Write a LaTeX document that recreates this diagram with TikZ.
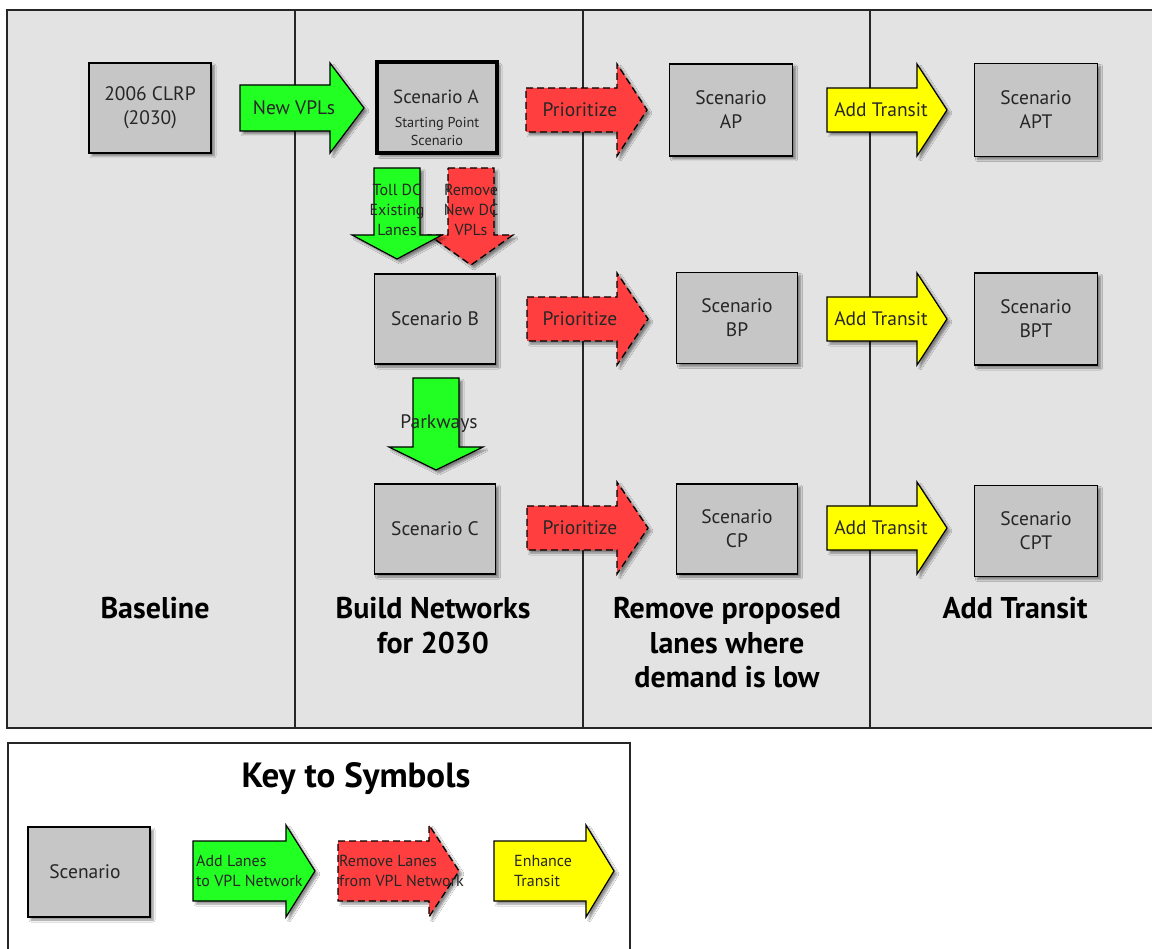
\documentclass[tikz,border=0pt]{standalone}
\usepackage{fontspec}
\setmainfont{PT Sans}
\usetikzlibrary{shadows.blur}
\definecolor{panelbg}{HTML}{E3E3E3}
\definecolor{boxgray}{HTML}{C6C6C6}
\definecolor{agreen}{HTML}{22FF22}
\definecolor{ared}{HTML}{FF3F3F}
\definecolor{ayellow}{HTML}{FFFF00}
\newcommand{\RArrow}[7]{% style, x0, x1, x2, yc, bh, hh
  \path[#1] (#2,#5-#6) -- (#3,#5-#6) -- (#3,#5-#7) -- (#4,#5) -- (#3,#5+#7) -- (#3,#5+#6) -- (#2,#5+#6) -- cycle;}
\newcommand{\DArrow}[7]{% style, xc, y0, y1, y2, bw, hw
  \path[#1] (#2-#6,#3) -- (#2+#6,#3) -- (#2+#6,#4) -- (#2+#7,#4) -- (#2,#5) -- (#2-#7,#4) -- (#2-#6,#4) -- cycle;}
\tikzset{
  shad/.style={blur shadow={shadow xshift=3pt, shadow yshift=-3pt, shadow blur steps=6, shadow opacity=45}},
  scen/.style={draw=black, line width=1.3pt, fill=boxgray, shad, align=center, inner sep=0pt,
    font=\fontsize{19.5}{24}\selectfont, text=black!85},
  garrow/.style={draw=black, line width=1.2pt, fill=agreen, shad},
  rarrow/.style={draw=black, line width=1.3pt, dash pattern=on 7pt off 4pt, fill=ared, shad},
  yarrow/.style={draw=black, line width=1.2pt, fill=ayellow, shad},
  lbl/.style={font=\fontsize{19.5}{22}\selectfont, text=black!85, inner sep=0pt},
  dlbl/.style={font=\fontsize{16}{20}\selectfont, text=black!85, align=center, inner sep=0pt},
  klbl/.style={font=\fontsize{16}{20}\selectfont, text=black!85, align=left, inner sep=0pt, anchor=west},
  ttl/.style={font=\fontsize{30}{34.5}\bfseries\selectfont, align=center, inner sep=0pt},
  divider/.style={draw=black!85, line width=1.5pt}
}
\begin{document}
\begin{tikzpicture}[x=1pt, y=-1pt, line join=miter]
\useasboundingbox (0,0) rectangle (1152,949);
\clip (0,0) rectangle (1152,949);
\fill[white] (0,0) rectangle (1152,949);
% main panel
\draw[fill=panelbg, line width=1.5pt, draw=black!85] (7,10) rectangle (1170,728);
\draw[divider] (295,10) -- (295,728);
\draw[divider] (583,10) -- (583,728);
\draw[divider] (870,10) -- (870,728);
% key panel
\draw[fill=white, line width=1.3pt, draw=black!85] (8,743) rectangle (630,970);

% arrows row A
\RArrow{garrow}{240}{330}{364}{108}{23}{45}
\RArrow{rarrow}{526}{617}{647}{110}{22}{46}
\RArrow{yarrow}{827}{917}{947}{110}{22}{46}
% row B
\RArrow{rarrow}{527}{617}{648}{319}{22}{46}
\RArrow{yarrow}{827}{917}{947}{319}{22}{46}
% row C
\RArrow{rarrow}{527}{617}{648}{528}{22}{46}
\RArrow{yarrow}{827}{917}{947}{528}{22}{46}
% down arrows
\DArrow{rarrow}{471}{168}{235}{265}{23}{42}
\DArrow{garrow}{397}{168}{235}{259}{23}{45}
\DArrow{garrow}{436}{378}{447}{470}{23}{47}
% key arrows
\RArrow{garrow}{193}{286}{315}{871}{30}{46}
\RArrow{rarrow}{338}{429}{459}{871}{30}{46}
\RArrow{yarrow}{494}{586}{614}{871}{30}{46}

% boxes
\node[scen, minimum width=122pt, minimum height=90pt] (clrp) at (150,108) {2006 CLRP\\(2030)};
\node[scen, line width=4pt, minimum width=120pt, minimum height=91pt] (sa) at (437,108) {};
\node[lbl, font=\fontsize{19}{22}\selectfont] (satitle) at (436,97) {Scenario A};
\node[dlbl, font=\fontsize{14.3}{18}\selectfont] (sasub) at (437,131) {Starting Point\\Scenario};
\node[scen, minimum width=123pt, minimum height=92pt] (sap) at (731,110) {Scenario\\AP};
\node[scen, minimum width=123pt, minimum height=93pt] (sapt) at (1036,110) {Scenario\\APT};
\node[scen, minimum width=121pt, minimum height=90pt] (sb) at (435,319) {Scenario B};
\node[scen, minimum width=121pt, minimum height=91pt] (sbp) at (737,318) {Scenario\\BP};
\node[scen, minimum width=123pt, minimum height=92pt] (sbpt) at (1036,319) {Scenario\\BPT};
\node[scen, minimum width=121pt, minimum height=90pt] (sc) at (435,529) {Scenario C};
\node[scen, minimum width=121pt, minimum height=90pt] (scp) at (737,529) {Scenario\\CP};
\node[scen, minimum width=123pt, minimum height=91pt] (scpt) at (1036,531) {Scenario\\CPT};
\node[scen, minimum width=122pt, minimum height=90pt] (keyscen) at (89,872) {};
\node[lbl] (keyscent) at (85,872) {Scenario};

% arrow labels
\node[lbl] (newvpls) at (294,108) {New VPLs};
\node[lbl] (prioA) at (580,110) {Prioritize};
\node[lbl] (addA) at (881,110) {Add Transit};
\node[lbl] (prioB) at (580,319) {Prioritize};
\node[lbl] (addB) at (881,319) {Add Transit};
\node[lbl] (prioC) at (580,528) {Prioritize};
\node[lbl] (addC) at (881,528) {Add Transit};
\node[dlbl] (toll) at (397,210) {Toll DC\\Existing\\Lanes};
\node[dlbl] (remove) at (471,210) {Remove\\New DC\\VPLs};
\node[lbl] (parkways) at (439,424) {Parkways};
\node[klbl] (kadd) at (196,871) {Add Lanes\\to VPL Network};
\node[klbl] (krem) at (339,871) {Remove Lanes\\from VPL Network};
\node[klbl] (kenh) at (514,871) {Enhance\\Transit};

% column titles
\node[ttl, anchor=north] (t1) at (155,597) {Baseline};
\node[ttl, anchor=north] (t2) at (433,597) {Build Networks\\for 2030};
\node[ttl, anchor=north] (t3) at (727,597) {Remove proposed\\lanes where\\demand is low};
\node[ttl, anchor=north] (t4) at (1015,597) {Add Transit};
\node[ttl, font=\fontsize{35}{40}\bfseries\selectfont] (keyttl) at (356,779) {Key to Symbols};
\end{tikzpicture}
\end{document}
